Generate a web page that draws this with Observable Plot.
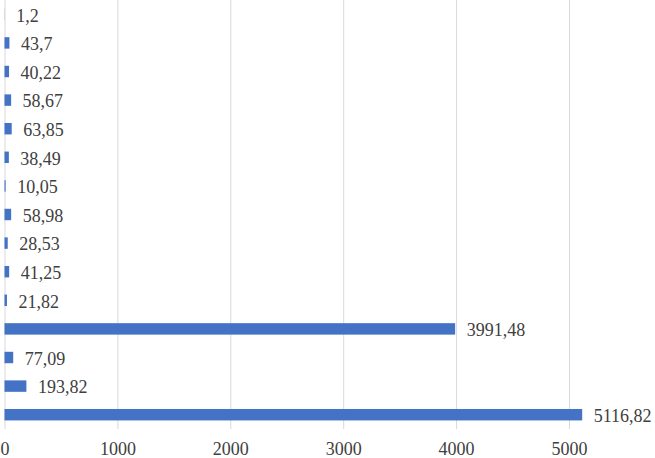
<!DOCTYPE html>
<html>
<head>
<meta charset="utf-8">
<script src="https://cdn.jsdelivr.net/npm/d3@7"></script>
<script src="https://cdn.jsdelivr.net/npm/@observablehq/plot@0.6"></script>
<style>
  html, body { margin: 0; padding: 0; background: #fff; }
  svg { overflow: visible; }
</style>
</head>
<body>
<div id="chart"></div>
<script>
const categories = ["c1","c2","c3","c4","c5","c6","c7","c8","c9","c10","c11","c12","c13","c14","c15"];
const values = [1.2, 43.7, 40.22, 58.67, 63.85, 38.49, 10.05, 58.98, 28.53, 41.25, 21.82, 3991.48, 77.09, 193.82, 5116.82];
const xTicks = [0, 1000, 2000, 3000, 4000, 5000];

const data = categories.map((c, i) => ({cat: c, value: values[i], label: String(values[i]).replace(".", ",")}));

const chart = Plot.plot({
  width: 655,
  height: 458,
  marginTop: 0,
  marginBottom: 29,
  marginLeft: 4.5,
  marginRight: 0,
  style: {fontFamily: "'Liberation Serif', 'Times New Roman', serif", fontSize: "18px", background: "#fff", overflow: "visible"},
  x: {domain: [0, 6000], range: [4.5, 681.9], axis: null, label: null},
  y: {domain: categories, axis: null, label: null, round: false, paddingInner: 0.6, paddingOuter: 0.3},
  marks: [
    Plot.gridX(xTicks, {stroke: "#d9d9d9", strokeOpacity: 1, strokeWidth: 1}),
    Plot.barX(data, {x: "value", y: "cat", fill: "#4472C4"}),
    Plot.text(data, {x: "value", y: "cat", text: "label", dx: 11, dy: 1, textAnchor: "start", fill: "#404040", fontSize: 18}),
    Plot.axisX(xTicks, {tickSize: 0, tickPadding: 13, tickFormat: d => String(d), fill: "#404040", fontSize: 18, stroke: null, label: null})
  ]
});
document.getElementById("chart").appendChild(chart);
</script>
</body>
</html>
